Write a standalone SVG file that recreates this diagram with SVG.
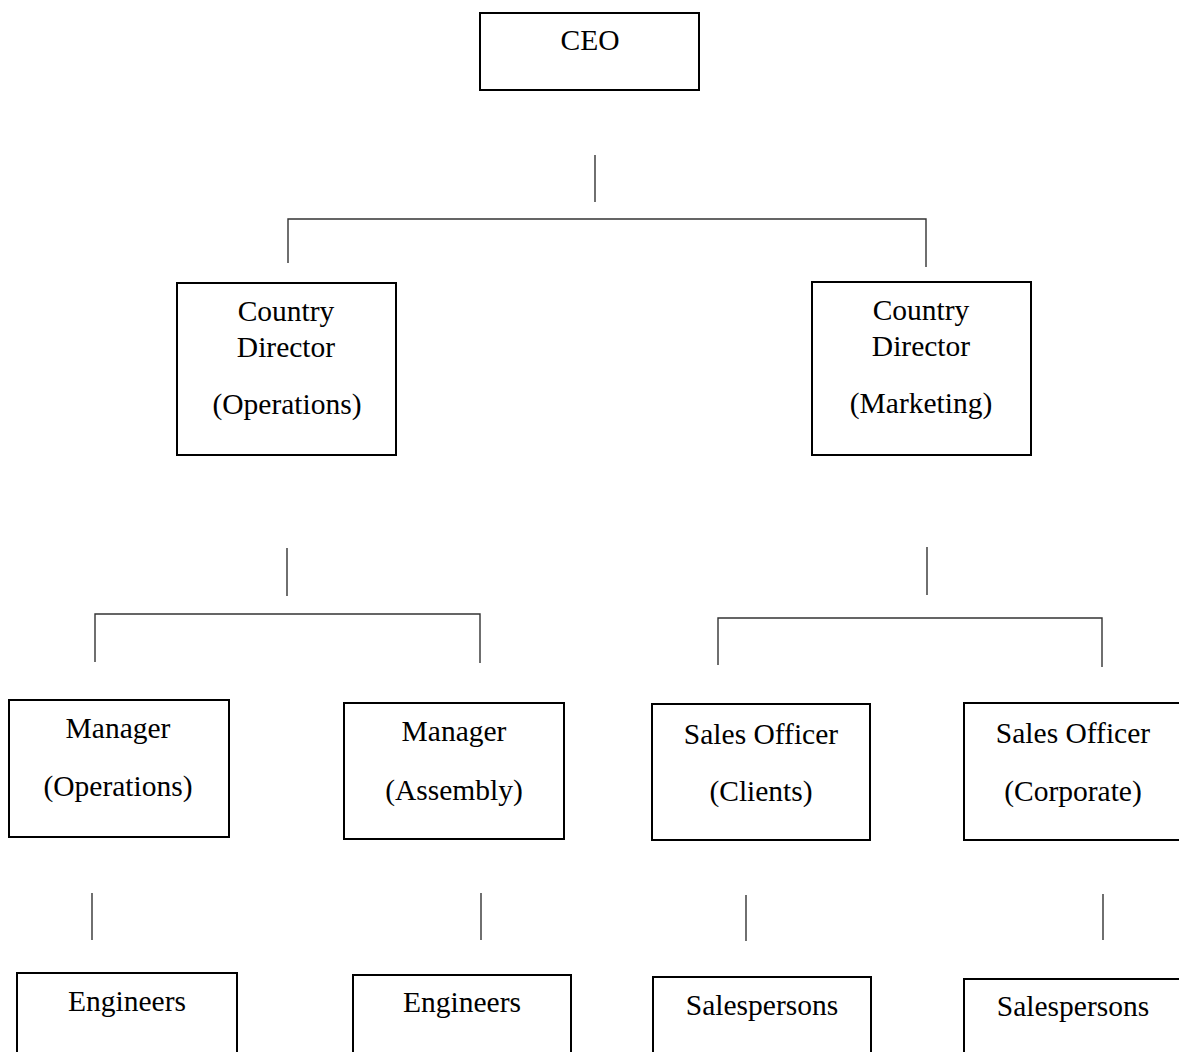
<svg xmlns="http://www.w3.org/2000/svg" width="1179" height="1052" viewBox="0 0 1179 1052">
<style>
.box{fill:#fff;stroke:#000;stroke-width:2}
.t{font-family:"Liberation Serif","Times New Roman",serif;font-size:29.5px;fill:#000;text-anchor:middle}
.c{stroke:#333;stroke-width:1.4;fill:none}
</style>
<rect width="1179" height="1052" fill="#fff"/>
<g id="connectors">
<line class="c" x1="595" y1="155" x2="595" y2="202"/>
<polyline class="c" points="288,263 288,219 926,219 926,267"/>
<line class="c" x1="287" y1="548" x2="287" y2="596"/>
<polyline class="c" points="95,662 95,614 480,614 480,663"/>
<line class="c" x1="927" y1="547" x2="927" y2="595"/>
<polyline class="c" points="718,665 718,618 1102,618 1102,667"/>
<line class="c" x1="92" y1="893" x2="92" y2="940"/>
<line class="c" x1="481" y1="893" x2="481" y2="940"/>
<line class="c" x1="746" y1="895" x2="746" y2="941"/>
<line class="c" x1="1103" y1="894" x2="1103" y2="940"/>
</g>
<g id="ceo"><rect class="box" x="480" y="13" width="219" height="77"/><text class="t" x="590" y="50">CEO</text></g>
<g id="cd-ops"><rect class="box" x="177" y="283" width="219" height="172"/><text class="t" x="286" y="321">Country</text><text class="t" x="286" y="357">Director</text><text class="t" x="287" y="414">(Operations)</text></g>
<g id="cd-mkt"><rect class="box" x="812" y="282" width="219" height="173"/><text class="t" x="921" y="320">Country</text><text class="t" x="921" y="356">Director</text><text class="t" x="921" y="413">(Marketing)</text></g>
<g id="mgr-ops"><rect class="box" x="9" y="700" width="220" height="137"/><text class="t" x="118" y="738">Manager</text><text class="t" x="118" y="796">(Operations)</text></g>
<g id="mgr-asm"><rect class="box" x="344" y="703" width="220" height="136"/><text class="t" x="454" y="741">Manager</text><text class="t" x="454" y="800">(Assembly)</text></g>
<g id="so-clients"><rect class="box" x="652" y="704" width="218" height="136"/><text class="t" x="761" y="744">Sales Officer</text><text class="t" x="761" y="801">(Clients)</text></g>
<g id="so-corp"><rect class="box" x="964" y="703" width="220" height="137"/><text class="t" x="1073" y="743">Sales Officer</text><text class="t" x="1073" y="801">(Corporate)</text></g>
<g id="eng1"><rect class="box" x="17" y="973" width="220" height="90"/><text class="t" x="127" y="1011">Engineers</text></g>
<g id="eng2"><rect class="box" x="353" y="975" width="218" height="90"/><text class="t" x="462" y="1012">Engineers</text></g>
<g id="sp1"><rect class="box" x="653" y="977" width="218" height="90"/><text class="t" x="762" y="1015">Salespersons</text></g>
<g id="sp2"><rect class="box" x="964" y="979" width="220" height="90"/><text class="t" x="1073" y="1016">Salespersons</text></g>
</svg>
